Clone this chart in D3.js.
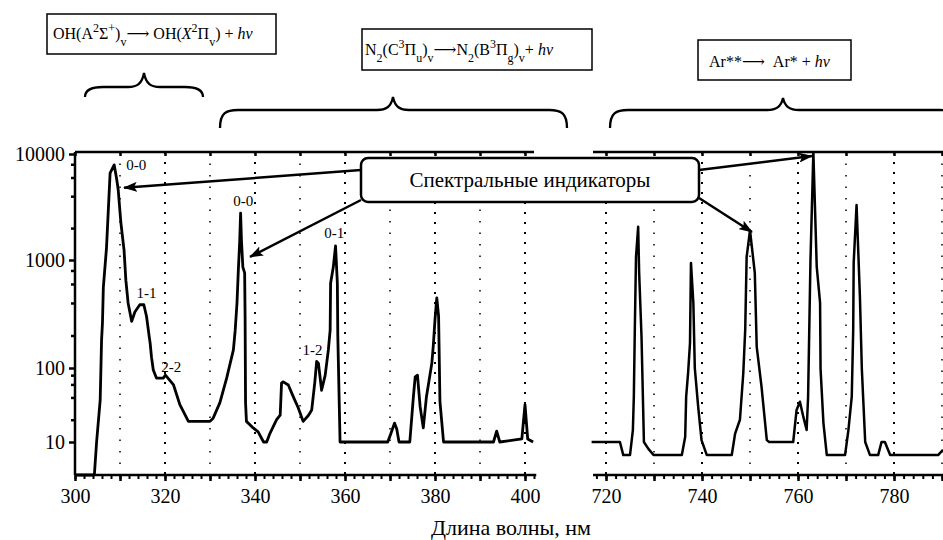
<!DOCTYPE html>
<html><head><meta charset="utf-8">
<script src="https://cdn.jsdelivr.net/npm/d3@7"></script>
<style>body{margin:0;background:#fff}svg{display:block}text{fill:#000}</style>
</head><body>
<script>
// ---- data ----
const uvWavelength = [300,304.3,304.8,305.6,305.9,306.1,306.3,307.0,307.8,308.7,309.2,309.4,309.6,310.2,310.9,311.3,311.8,312.6,313.3,314.4,315.3,315.9,316.5,316.7,317.0,317.4,318.1,319.6,320.1,321.9,323.3,325.2,330.0,330.7,332.2,333.7,335.2,335.6,336.0,336.3,336.6,336.8,337.0,337.3,337.7,337.8,337.9,338.1,339.6,340.7,341.9,342.6,343.3,344.8,345.6,345.9,346.3,347.4,348.5,349.6,350.7,351.9,352.6,353.3,353.7,354.1,354.8,355.6,356.3,356.7,356.8,357.4,357.9,358.3,358.4,358.9,369.5,370.2,371.0,371.5,372.0,374.4,375.2,375.6,376.1,376.7,377.4,378.1,379.3,379.6,380.0,380.4,380.8,381.1,381.9,393.0,393.7,394.4,399.3,400.0,400.6,401.8];
const uvIntensity  = [5,5,10,37,180,260,560,1300,6600,7900,6000,5300,4600,2240,1240,650,400,270,330,385,385,300,194,170,126,94,73,73,80,59,32,19,19,21,34,73,147,224,400,810,1500,2770,1500,860,760,300,34,19,15.5,13.7,10,10,13,20,23,63,65,59,41,29,19,23,27,65,115,110,50,80,147,224,610,860,1360,610,200,10,10,13,18,15,10,10,41,76,80,30,15.5,41,111,157,280,445,300,35,10,10,14,10,11,32,11,10];
const irWavelength = [717.0,722.9,723.6,725.0,725.6,725.8,726.0,726.25,726.7,726.9,727.4,727.9,728.8,729.9,735.8,736.5,736.7,737.1,737.5,737.7,738.2,738.5,739.2,739.9,741.0,746.2,746.9,747.9,748.6,749.0,749.3,750.0,751.0,751.4,752.4,753.5,754.0,759.0,759.7,760.4,761.1,761.8,762.1,762.6,763.2,763.9,764.6,764.7,765.3,766.0,769.8,770.5,771.2,771.5,771.6,772.2,772.9,773.3,774.0,775.0,776.7,777.4,778.1,779.2,789.2,790.2];
const irIntensity  = [10,10,7.6,7.6,14.5,41,224,1070,2060,780,195,10,8.7,7.6,7.6,11.8,41,85,170,940,400,100,30,10.6,7.6,7.6,13,20,85,224,1070,1900,760,157,56,10.6,10,10,27,35,22,14.5,40,1000,10400,870,400,97,18,7.6,7.6,14.5,41,224,940,3300,457,97,10,7.6,7.6,10,10,7.6,7.6,8.5];
const yTickValues = [10,100,1000,10000];
const yMinorTicks = [20,40,60,80,200,400,600,800,2000,4000,6000,8000];
const xTicksLeft = [300,320,340,360,380,400];
const xTicksRight = [720,740,760,780];
const peakLabels = [
  {t:"0-0", x:313.6, v:7070}, {t:"0-0", x:337.4, v:3230}, {t:"1-1", x:315.9, v:445},
  {t:"2-2", x:321.4, v:88}, {t:"1-2", x:352.8, v:132}, {t:"0-1", x:357.6, v:1600}
];
const indicatorTargets = [
  {side:"L", x:310.9, v:4800, y0:170}, {side:"L", x:338.9, v:1070, y0:200},
  {side:"R", x:762.9, v:9570, y0:170}, {side:"R", x:750.4, v:1840, y0:198}
];
const calloutText = "Спектральные индикаторы";
const xTitle = "Длина волны, нм";

// ---- scales ----
const FONT = "'Liberation Serif', Tinos, 'Times New Roman', 'DejaVu Serif', serif";
const W = 943, H = 540, yTop = 152, yBot = 475;
const xL = d3.scaleLinear().domain([300,400]).range([75,525]);
const xR = d3.scaleLinear().domain([720,790]).range([606,942]);
const y = d3.scaleLog().domain([5,10,100,1000,10000]).range([yBot,442,368,260,154]);

const svg = d3.select("body").append("svg").attr("width",W).attr("height",H).style("font-family",FONT);
const defs = svg.append("defs");
defs.append("marker").attr("id","ah").attr("viewBox","0 0 14 10").attr("refX",13).attr("refY",5)
  .attr("markerWidth",14).attr("markerHeight",10).attr("markerUnits","userSpaceOnUse").attr("orient","auto")
  .append("path").attr("d","M0,0 L14,5 L0,10 L3,5 Z").attr("fill","#000");

// gridlines
function grid(sc, vals){
  vals.forEach(v=>{
    svg.append("line").attr("x1",sc(v)).attr("x2",sc(v)).attr("y1",yTop).attr("y2",yBot)
      .attr("stroke","#000").attr("stroke-width", v%20===0?2:1.5)
      .attr("stroke-dasharray", v%20===0?"2,8":"1.5,10");
  });
}
grid(xL, d3.range(310,401,10));
grid(xR, d3.range(720,791,10));

// frame lines
const g = svg.append("g").attr("stroke","#000").attr("stroke-width",2.5).attr("fill","none");
g.append("line").attr("x1",xL(300)).attr("x2",xL(300)).attr("y1",yTop).attr("y2",yBot);
g.append("line").attr("x1",xL(300)).attr("x2",xL(402.5)).attr("y1",yBot).attr("y2",yBot);
g.append("line").attr("x1",xL(300)).attr("x2",xL(402)).attr("y1",yTop).attr("y2",yTop);
g.append("line").attr("x1",xR(717.3)).attr("x2",W).attr("y1",yBot).attr("y2",yBot);
g.append("line").attr("x1",xR(717.3)).attr("x2",W).attr("y1",yTop).attr("y2",yTop);

// x ticks
function xTicks(sc, minor, major, labels){
  const a = svg.append("g").attr("transform",`translate(0,${yBot})`)
    .call(d3.axisBottom(sc).tickValues(minor).tickSize(4).tickFormat(""));
  a.select(".domain").remove();
  a.selectAll("line").attr("stroke-width",2);
  const b = svg.append("g").attr("transform",`translate(0,${yBot})`)
    .call(d3.axisBottom(sc).tickValues(major).tickSize(6).tickPadding(8).tickFormat(d=>labels.includes(d)?d:""));
  b.select(".domain").remove();
  b.attr("font-family",null);
  b.selectAll("line").attr("stroke-width",2.5);
  b.selectAll("text").attr("font-size",20).style("font-family",FONT);
  const t = svg.append("g").attr("transform",`translate(0,${yTop})`)
    .call(d3.axisBottom(sc).tickValues(major).tickSize(4).tickFormat(""));
  t.select(".domain").remove();
  t.selectAll("line").attr("stroke-width",2.5);
}
xTicks(xL, d3.range(300,403,2), d3.range(300,401,10), xTicksLeft);
xTicks(xR, d3.range(718,791,2), d3.range(720,791,10), xTicksRight);

// y axis
const ya = svg.append("g").attr("transform",`translate(${xL(300)},0)`)
  .call(d3.axisLeft(y).tickValues(yTickValues).tickSize(6).tickPadding(4).tickFormat(d3.format("d")));
ya.select(".domain").remove();
ya.attr("font-family",null);
ya.selectAll("line").attr("stroke-width",2.5);
ya.selectAll("text").attr("font-size",20).style("font-family",FONT);
const ym = svg.append("g").attr("transform",`translate(${xL(300)},0)`)
  .call(d3.axisLeft(y).tickValues(yMinorTicks).tickSize(4).tickFormat(""));
ym.select(".domain").remove();
ym.selectAll("line").attr("stroke-width",2.5);

// spectra
const lineL = d3.line().x(d=>xL(d[0])).y(d=>y(d[1]));
const lineR = d3.line().x(d=>xR(d[0])).y(d=>y(d[1]));
svg.append("path").attr("d",lineL(d3.zip(uvWavelength,uvIntensity))).attr("fill","none").attr("stroke","#000").attr("stroke-width",2.8).attr("stroke-linejoin","round");
svg.append("path").attr("d",lineR(d3.zip(irWavelength,irIntensity))).attr("fill","none").attr("stroke","#000").attr("stroke-width",2.5).attr("stroke-linejoin","round");

// peak labels
svg.selectAll(".pl").data(peakLabels).enter().append("text").attr("class","pl")
  .attr("x",d=>xL(d.x)).attr("y",d=>y(d.v)).attr("text-anchor","middle").attr("font-size",15).text(d=>d.t);

// callout box & arrows
const box = {x:361, y:158, w:338, h:44};
indicatorTargets.forEach(d=>{
  const sc = d.side==="L"?xL:xR;
  svg.append("line").attr("x1", d.side==="L"?box.x:box.x+box.w).attr("y1",d.y0)
    .attr("x2",sc(d.x)).attr("y2",y(d.v)).attr("stroke","#000").attr("stroke-width",2.5).attr("marker-end","url(#ah)");
});
svg.append("rect").attr("x",box.x).attr("y",box.y).attr("width",box.w).attr("height",box.h).attr("rx",7)
  .attr("fill","#fff").attr("stroke","#000").attr("stroke-width",2.5);
svg.append("text").attr("x",box.x+box.w/2).attr("y",box.y+29).attr("text-anchor","middle").attr("font-size",21).text(calloutText);

// braces
function brace(x1,x2,xt,yEnd,yH,yTip){
  const p = `M${x1},${yEnd} C${x1},${yH+3} ${x1+6},${yH} ${x1+18},${yH} L${xt-16},${yH} C${xt-7},${yH} ${xt-2},${yH-3} ${xt},${yTip} C${xt+2},${yH-3} ${xt+7},${yH} ${xt+16},${yH} L${x2-18},${yH} C${x2-6},${yH} ${x2},${yH+3} ${x2},${yEnd}`;
  svg.append("path").attr("d",p).attr("fill","none").attr("stroke","#000").attr("stroke-width",2.3);
}
brace(85,203,144,97,87,73);
brace(220,567,393,128,110,97);
brace(610,958,783,128,110,98);

// label boxes
function labelBox(x,yb,w,h,parts,tx,ty){
  svg.append("rect").attr("x",x).attr("y",yb).attr("width",w).attr("height",h).attr("fill","#fff").attr("stroke","#000").attr("stroke-width",1.5);
  const t = svg.append("text").attr("x",tx).attr("y",ty).attr("font-size",16);
  parts.forEach(p=>{
    const s = t.append("tspan").text(p.t);
    if(p.sup){s.attr("baseline-shift","super").attr("font-size",12);}
    if(p.sub){s.attr("baseline-shift","sub").attr("font-size",12);}
    if(p.i){s.attr("font-style","italic");}
  });
}
labelBox(47,14,229,40,[{t:"OH(A"},{t:"2",sup:1},{t:"Σ"},{t:"+",sup:1},{t:")"},{t:"v",sub:1},{t:"⟶ OH("},{t:"X",i:1},{t:"2",sup:1},{t:"Π"},{t:"v",sub:1},{t:") + "},{t:"hν",i:1}],53,39);
labelBox(362,29,230,41,[{t:"N"},{t:"2",sub:1},{t:"(C"},{t:"3",sup:1},{t:"Π"},{t:"u",sub:1},{t:")"},{t:"v",sub:1},{t:"⟶N"},{t:"2",sub:1},{t:"(B"},{t:"3",sup:1},{t:"Π"},{t:"g",sub:1},{t:")"},{t:"v",sub:1},{t:"+ "},{t:"hν",i:1}],365,55);
labelBox(698,40,153,40,[{t:"Ar**⟶\u00a0\u00a0Ar* + "},{t:"hν",i:1}],709,67);

// x title
svg.append("text").attr("x",511).attr("y",535).attr("text-anchor","middle").attr("font-size",22).text(xTitle);
</script>
</body></html>
